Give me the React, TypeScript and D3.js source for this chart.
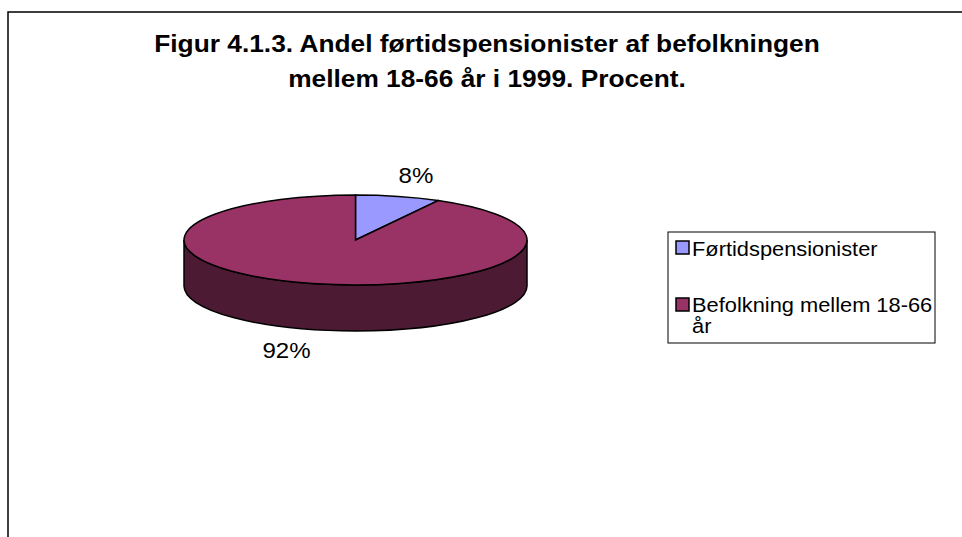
import React from 'react';
import * as d3 from 'd3';

const categories = ['Førtidspensionister', 'Befolkning mellem 18-66 år'];
const values = [8, 92];
const labels = ['8%', '92%'];
const colors = ['#9999FF', '#993366'];
const sideColors = ['#4D4D80', '#4D1A33'];
const titleLines = ['Figur 4.1.3. Andel førtidspensionister af befolkningen', 'mellem 18-66 år i 1999. Procent.'];
const legendLines = [['Førtidspensionister'], ['Befolkning mellem 18-66', 'år']];

const W = 962;
const H = 537;
const cx = 355.5;
const cy = 240;
const rx = 171.5;
const ry = 45;
const depth = 46;
const sx = 1.12; // the original is a bit stretched sideways
const font = 'Arial, "Liberation Sans", sans-serif';

function pt(a: number, dy = 0): [number, number] {
  return [cx + rx * Math.sin(a), cy - ry * Math.cos(a) + dy];
}

export default function App() {
  const pie = d3.pie<number>().value((d) => d).sort(null);
  const arcs = pie(values);
  const arc = d3.arc<d3.PieArcDatum<number>>().innerRadius(0).outerRadius(rx);

  // front walls: part of each slice between 90° and 270°
  const sides = arcs.map((a, i) => {
    const s = Math.max(a.startAngle, Math.PI / 2);
    const e = Math.min(a.endAngle, (3 * Math.PI) / 2);
    if (e <= s) return null;
    const [x1, y1] = pt(s);
    const [x2, y2] = pt(e);
    const d = `M${x1},${y1} A${rx},${ry} 0 0 1 ${x2},${y2} L${x2},${y2 + depth} A${rx},${ry} 0 0 0 ${x1},${y1 + depth} Z`;
    return <path key={i} d={d} fill={sideColors[i]} stroke="#000" strokeWidth={1.5} />;
  });

  const labelPos: [number, number][] = [
    [416, 183],
    [286.5, 358],
  ];

  return (
    <svg width={W} height={H} style={{ position: 'absolute', left: 0, top: 0 }}>
      <rect x={0} y={0} width={W} height={H} fill="#fff" />
      <rect x={8} y={12} width={W + 10} height={H + 10} fill="#fff" stroke="#000" strokeWidth={1.5} />
      {titleLines.map((t, i) => (
        <text
          key={i}
          transform={`translate(487,${52 + i * 35}) scale(${sx},1)`}
          textAnchor="middle"
          fontFamily={font}
          fontWeight="bold"
          fontSize={23.5}
        >
          {t}
        </text>
      ))}
      {sides}
      <g transform={`translate(${cx},${cy}) scale(1,${ry / rx})`}>
        {arcs.map((a, i) => (
          <path key={i} d={arc(a) || ''} fill={colors[i]} stroke="#000" strokeWidth={1.5} vectorEffect="non-scaling-stroke" />
        ))}
      </g>
      {labels.map((l, i) => (
        <text
          key={i}
          transform={`translate(${labelPos[i][0]},${labelPos[i][1]}) scale(${sx},1)`}
          textAnchor="middle"
          fontFamily={font}
          fontSize={21.5}
        >
          {l}
        </text>
      ))}
      <g>
        <rect x={668} y={232} width={267} height={111} fill="#fff" stroke="#000" strokeWidth={1} />
        {categories.map((c, i) => (
          <g key={c} transform={`translate(676,${241 + i * 57})`}>
            <rect x={0} y={0} width={13} height={13} fill={colors[i]} stroke="#000" strokeWidth={1.5} />
            {legendLines[i].map((t, j) => (
              <text
                key={j}
                transform={`translate(16,${(i === 0 ? 15 : 14) + j * 21}) scale(${sx},1)`}
                fontFamily={font}
                fontSize={19.5}
              >
                {t}
              </text>
            ))}
          </g>
        ))}
      </g>
    </svg>
  );
}
